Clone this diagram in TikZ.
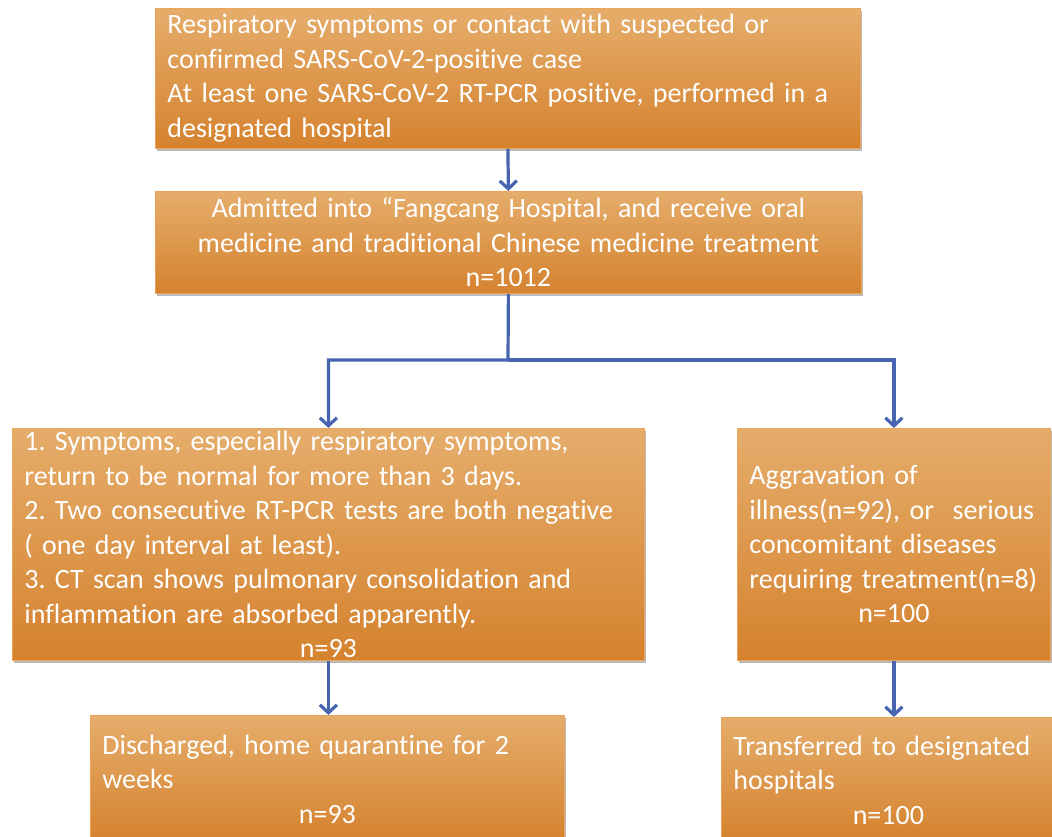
\documentclass[tikz,border=0pt]{standalone}
\usepackage{fontspec}
\setmainfont[Ligatures=NoCommon]{Carlito}
\frenchspacing
\usetikzlibrary{arrows.meta,shadows}
\definecolor{orTop}{RGB}{229,173,107}
\definecolor{orBot}{RGB}{213,130,46}
\definecolor{boxedge}{RGB}{236,164,88}
\definecolor{arrowblue}{RGB}{70,100,175}
\tikzset{
  box/.style={draw=boxedge, line width=0.8pt, top color=orTop, bottom color=orBot,
    text=white, font=\fontsize{28}{34.5}\selectfont\frenchspacing, inner xsep=12pt, inner ysep=0pt,
    anchor=north west, align=left,
    drop shadow={shadow xshift=2pt, shadow yshift=-3pt, opacity=0.45, fill=black!60}},
  flow/.style={draw=arrowblue, line width=3.2pt, -{Straight Barb[length=8pt,width=17pt]}}
}
\begin{document}
\begin{tikzpicture}[x=1pt,y=-1pt]
\useasboundingbox (0,0) rectangle (1052,836);
\fill[white] (0,0) rectangle (1052,836);
\node[box, minimum width=705pt, minimum height=140pt, text width=681pt] (b1) at (155,8)
  {Respiratory symptoms or contact with suspected or\\
   confirmed SARS-CoV-2-positive case\\
   At least one SARS-CoV-2 RT-PCR positive, performed in a\\
   designated hospital};
\node[box, align=center, minimum width=706pt, minimum height=102pt, text width=682pt] (b2) at (155,191)
  {Admitted into “Fangcang Hospital, and receive oral\\
   medicine and traditional Chinese medicine treatment\\
   n=1012};
\node[box, minimum width=632pt, minimum height=232pt, text width=608pt] (b3) at (12,428)
  {1. Symptoms, especially respiratory symptoms,\\
   return to be normal for more than 3 days.\\
   2. Two consecutive RT-PCR tests are both negative\\
   ( one day interval at least).\\
   3. CT scan shows pulmonary consolidation and\\
   inflammation are absorbed apparently.\par
   \centerline{n=93}};
\node[box, minimum width=313pt, minimum height=232pt, text width=289pt] (b4) at (737,428)
  {Aggravation of\\
   illness(n=92), or\ \ serious\\
   concomitant diseases\\
   requiring treatment(n=8)\par
   \centerline{n=100}};
\node[box, minimum width=474pt, minimum height=127pt, text width=450pt] (b5) at (90,715)
  {Discharged, home quarantine for 2\\
   weeks\par
   \centerline{n=93}};
\node[box, minimum width=334pt, minimum height=125pt, text width=310pt] (b6) at (721,717)
  {Transferred to designated\\
   hospitals\par
   \centerline{n=100}};
\coordinate (split) at (508,360);
\draw[flow] (b1.south) -- (b2.north);
\draw[flow] (b2.south) -- (split) -| (b3.north);
\draw[flow] (split) -| (b4.north);
\draw[flow] (b3.south) -- (b5.north -| b3.south);
\draw[flow] (b4.south) -- (b6.north -| b4.south);
\end{tikzpicture}
\end{document}
